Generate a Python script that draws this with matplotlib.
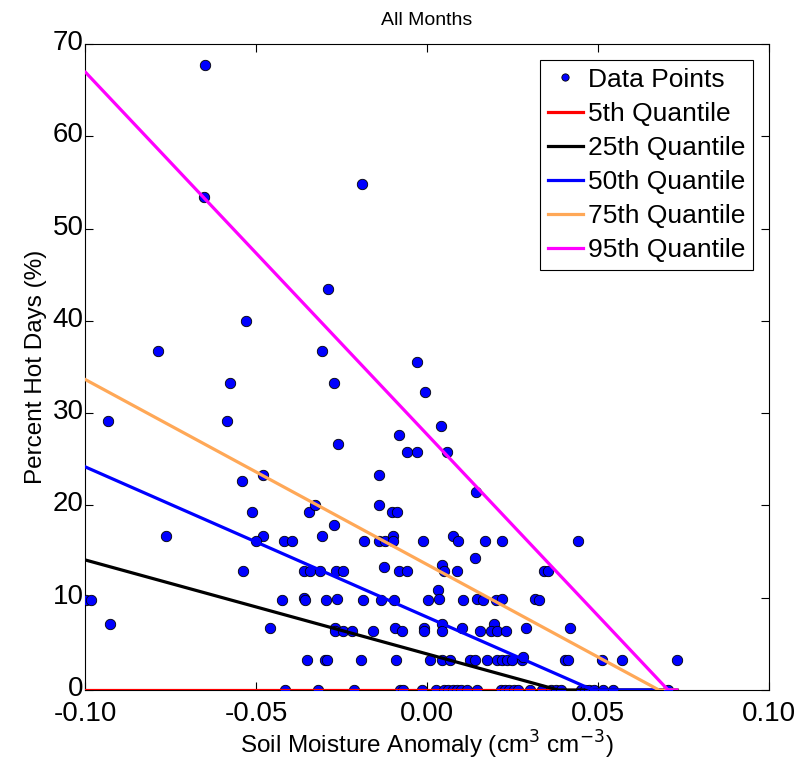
import numpy as np
import matplotlib
matplotlib.use("Agg")
import matplotlib.pyplot as plt
import matplotlib.transforms as mtransforms

plt.rcParams['font.family'] = ['Liberation Sans', 'DejaVu Sans']

# soil moisture anomaly (x) and percent hot days (y)
x_pts = [
    -0.0649, -0.0652, -0.0191, -0.0289, -0.0529, -0.0785, -0.0306, -0.0029,
    -0.0007, -0.0576, -0.0272, -0.0934, -0.0584, 0.0042, -0.0083, -0.0260,
    -0.0059, -0.0028, 0.0058, -0.0139, -0.0541, -0.0478, 0.0143, -0.0512,
    -0.0139, -0.0346, -0.0327, -0.0103, -0.0089, -0.0273, -0.0764, -0.0478,
    -0.0501, -0.0417, -0.0394, -0.0306, -0.0183, -0.0140, -0.0123, -0.0100,
    -0.0100, -0.0011, 0.0077, 0.0090, 0.0171, 0.0220, 0.0442, 0.0139,
    -0.0127, -0.0537, -0.0360, -0.0342, -0.0313, -0.0266, -0.0245, -0.0081,
    -0.0057, 0.0044, 0.0051, 0.0087, 0.0342, 0.0355, 0.0033, 0.0036,
    -0.0998, -0.0982, -0.0927, -0.0425, -0.0360, -0.0357, -0.0295, -0.0264,
    -0.0188, -0.0134, -0.0096, 0.0004, 0.0104, 0.0147, 0.0165, 0.0202,
    0.0218, 0.0316, 0.0328, -0.0458, -0.0268, -0.0268, -0.0245, -0.0218,
    -0.0157, -0.0094, -0.0072, -0.0009, -0.0009, 0.0044, 0.0044, 0.0101,
    0.0155, 0.0196, 0.0186, 0.0204, 0.0231, 0.0289, 0.0418,
    -0.0352, -0.0298, -0.0293, -0.0193, -0.0091, 0.0009, 0.0043, 0.0067,
    0.0126, 0.0140, 0.0175, 0.0204, 0.0218, 0.0233, 0.0248, 0.0277,
    0.0282, 0.0404, 0.0413, 0.0511, 0.0569, 0.0730,
    -0.0415, -0.0320, -0.0213, -0.0079, -0.0069, -0.0016, 0.0025, 0.0050,
    0.0062, 0.0075, 0.0088, 0.0100, 0.0116, 0.0147, 0.0215, 0.0228,
    0.0240, 0.0255, 0.0265, 0.0301, 0.0335, 0.0362, 0.0378, 0.0392,
    0.0450, 0.0462, 0.0475, 0.0488, 0.0516, 0.0545, 0.0706,
]
y_pts = [
    67.7, 53.4, 54.8, 43.4, 40.0, 36.7, 36.7, 35.5,
    32.3, 33.3, 33.3, 29.1, 29.1, 28.6, 27.6, 26.7,
    25.8, 25.8, 25.8, 23.3, 22.6, 23.3, 21.5, 19.3,
    20.0, 19.3, 20.0, 19.3, 19.3, 17.9, 16.7, 16.7,
    16.1, 16.1, 16.1, 16.7, 16.1, 16.1, 16.1, 16.7,
    16.1, 16.1, 16.7, 16.1, 16.1, 16.1, 16.1, 14.3,
    13.3, 12.9, 12.9, 12.9, 12.9, 12.9, 12.9, 12.9,
    12.9, 13.5, 12.9, 12.9, 12.9, 12.9, 10.8, 9.9,
    9.7, 9.7, 7.2, 9.7, 10.0, 9.7, 9.7, 9.9,
    9.7, 9.7, 9.7, 9.7, 9.7, 9.9, 9.7, 9.7,
    9.9, 9.9, 9.7, 6.7, 6.7, 6.4, 6.4, 6.4,
    6.4, 6.7, 6.4, 6.7, 6.4, 7.2, 6.4, 6.7,
    6.4, 7.2, 6.4, 6.4, 6.4, 6.7, 6.7,
    3.2, 3.2, 3.2, 3.2, 3.2, 3.2, 3.3, 3.2,
    3.2, 3.2, 3.2, 3.2, 3.2, 3.2, 3.2, 3.2,
    3.6, 3.2, 3.2, 3.2, 3.2, 3.2,
    0, 0, 0, 0, 0, 0, 0, 0,
    0, 0, 0, 0, 0, 0, 0, 0,
    0, 0, 0, 0, 0, 0, 0, 0,
    0, 0, 0, 0, 0, 0, 0,
]

# quantile regression lines: intercept and slope (clipped at zero)
q_labels = ['5th Quantile', '25th Quantile', '50th Quantile', '75th Quantile', '95th Quantile']
q_intercepts = [0.0, 3.9, 7.9, 13.6, 27.7]
q_slopes = [0.0, -102.0, -162.9, -200.6, -393.0]
q_colors = ['#ff0000', '#000000', '#0000ff', '#ffa857', '#ff00ff']

fig = plt.figure(figsize=(8.09, 7.62), dpi=100)
ax = fig.add_axes([0.105, 0.0945, 0.8456, 0.8478])

ax.plot(x_pts, y_pts, 'o', color='#0000ff', markeredgecolor='black',
        markeredgewidth=0.6, markersize=7.5, label='Data Points', zorder=3)

xs = np.linspace(min(x_pts), max(x_pts), 400)
for lab, a, b, c in zip(q_labels, q_intercepts, q_slopes, q_colors):
    ys = np.clip(a + b * xs, 0, None)
    ax.plot(xs, ys, '-', color=c, linewidth=2.3, label=lab, zorder=4)

ax.set_xlim(-0.1, 0.1)
ax.set_ylim(0, 70)
ax.set_xticks([-0.1, -0.05, 0, 0.05, 0.1])
ax.set_xticklabels(['-0.10', '-0.05', '0.00', '0.05', '0.10'])
ax.set_yticks(range(0, 71, 10))
ax.tick_params(direction='in', top=True, right=True, labelsize=20, length=6,
               width=0.8, pad=1)
ax.tick_params(axis='x', pad=8)
for s in ax.spines.values():
    s.set_linewidth(0.8)

# nudge y tick labels up a little, as in the reference
shift = mtransforms.ScaledTranslation(0, 4 / 100, fig.dpi_scale_trans)
for lbl in ax.get_yticklabels():
    lbl.set_transform(lbl.get_transform() + shift)

ax.set_xlabel('Soil Moisture Anomaly (cm$^3$ cm$^{-3}$)', fontsize=17.5, labelpad=1)
ax.set_ylabel('Percent Hot Days (%)', fontsize=17.5, labelpad=4)
ax.set_title('All Months', fontsize=14, pad=14)

leg = ax.legend(loc='upper right', fontsize=19, handlelength=1.3, handletextpad=0.2,
                borderaxespad=0.6, borderpad=0.3, labelspacing=0.38,
                fancybox=False, edgecolor='black', framealpha=1, markerscale=0.7)
leg.get_frame().set_linewidth(0.8)

fig.savefig('out.png', dpi=100)
